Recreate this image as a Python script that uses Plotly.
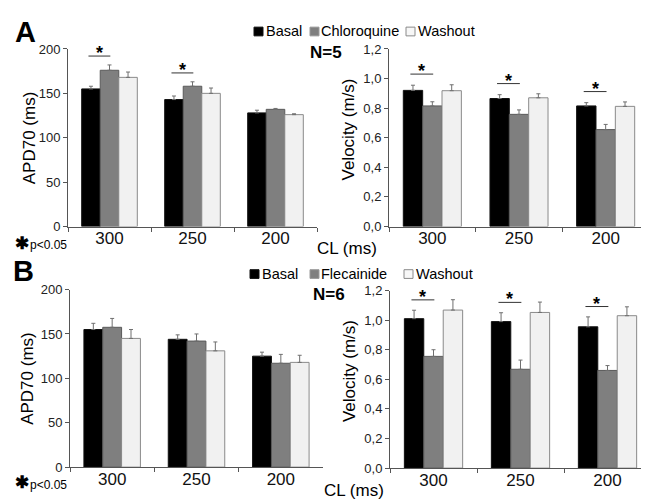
import plotly.graph_objects as go

W, H = 649, 504
FONT = "Liberation Sans, Arial, sans-serif"

categories = ["300", "250", "200"]

# Panel A (Chloroquine, N=5)
apd_a_basal = [155, 143, 128]
apd_a_basal_err = [3, 4, 3]
apd_a_drug = [176, 158, 132]
apd_a_drug_err = [6, 5, 1]
apd_a_wash = [168, 150, 126]
apd_a_wash_err = [6, 6, 1]

vel_a_basal = [0.92, 0.865, 0.815]
vel_a_basal_err = [0.035, 0.026, 0.022]
vel_a_drug = [0.815, 0.758, 0.655]
vel_a_drug_err = [0.028, 0.03, 0.035]
vel_a_wash = [0.918, 0.87, 0.812]
vel_a_wash_err = [0.04, 0.027, 0.03]

# Panel B (Flecainide, N=6)
apd_b_basal = [155, 144, 125]
apd_b_basal_err = [7, 5, 4.5]
apd_b_drug = [157.5, 142, 117]
apd_b_drug_err = [10, 8, 10]
apd_b_wash = [145, 131, 118]
apd_b_wash_err = [10, 10, 8]

vel_b_basal = [1.01, 0.99, 0.955]
vel_b_basal_err = [0.057, 0.06, 0.067]
vel_b_drug = [0.755, 0.668, 0.66]
vel_b_drug_err = [0.045, 0.062, 0.033]
vel_b_wash = [1.068, 1.052, 1.03]
vel_b_wash_err = [0.07, 0.07, 0.06]

# significant comparisons (basal vs drug), by category index
sig_apd_a = [0, 1]
sig_vel_a = [0, 1, 2]
sig_apd_b = []
sig_vel_b = [0, 1, 2]

COL_BASAL = "#000000"
COL_DRUG = "#7f7f7f"
COL_WASH = "#f1f1f1"
LINE_BASAL = "#111111"
LINE_DRUG = "#5a5a5a"
LINE_WASH = "#8a8a8a"

BARGAP = 0.33


def px_x(x):
    return x / W


def px_y(y):
    return 1 - y / H


panels = [
    dict(ax="", dx=(60, 309), dy=(35, 218), yr=[0, 200], dt=50, fmt="d",
         d=[(apd_a_basal, apd_a_basal_err), (apd_a_drug, apd_a_drug_err), (apd_a_wash, apd_a_wash_err)],
         sig=sig_apd_a, pad=10),
    dict(ax="2", dx=(381, 641), dy=(35, 218), yr=[0, 1.2], dt=0.2, fmt=".1f",
         d=[(vel_a_basal, vel_a_basal_err), (vel_a_drug, vel_a_drug_err), (vel_a_wash, vel_a_wash_err)],
         sig=sig_vel_a, pad=0.075),
    dict(ax="3", dx=(62, 315), dy=(283, 466), yr=[0, 200], dt=50, fmt="d",
         d=[(apd_b_basal, apd_b_basal_err), (apd_b_drug, apd_b_drug_err), (apd_b_wash, apd_b_wash_err)],
         sig=sig_apd_b, pad=10),
    dict(ax="4", dx=(382, 643), dy=(284, 467), yr=[0, 1.2], dt=0.2, fmt=".1f",
         d=[(vel_b_basal, vel_b_basal_err), (vel_b_drug, vel_b_drug_err), (vel_b_wash, vel_b_wash_err)],
         sig=sig_vel_b, pad=0.07),
]

fills = [COL_BASAL, COL_DRUG, COL_WASH]
lines = [LINE_BASAL, LINE_DRUG, LINE_WASH]

fig = go.Figure()
shapes = []
annotations = []

group_w = 1 - BARGAP
bar_w = group_w / 3
offsets = [-group_w / 2 + (j + 0.5) * bar_w for j in range(3)]

for p in panels:
    xa = "x" + p["ax"]
    ya = "y" + p["ax"]
    for j, (vals, errs) in enumerate(p["d"]):
        fig.add_trace(go.Bar(
            x=categories, y=vals, xaxis=xa, yaxis=ya, showlegend=False,
            marker=dict(color=fills[j], line=dict(color=lines[j], width=1)),
            error_y=dict(type="data", array=errs, arrayminus=[0] * len(errs),
                         symmetric=False, color="#6f6f6f", thickness=1, width=2),
        ))
    basal, basal_err = p["d"][0]
    drug, drug_err = p["d"][1]
    for i in p["sig"]:
        top = max(basal[i] + basal_err[i], drug[i] + drug_err[i]) + p["pad"]
        shapes.append(dict(type="line", xref=xa, yref=ya,
                           x0=i + offsets[0] - 0.03, x1=i + offsets[1] + 0.01,
                           y0=top, y1=top, line=dict(color="#333333", width=1)))
        annotations.append(dict(xref=xa, yref=ya, x=i + (offsets[0] + offsets[1]) / 2 - 0.01,
                                y=top, text="<b>*</b>", showarrow=False, yanchor="middle",
                                yshift=3, font=dict(size=18, color="#000", family=FONT)))

    xkey = "xaxis" + p["ax"]
    ykey = "yaxis" + p["ax"]
    fig.layout[xkey] = dict(
        domain=[px_x(p["dx"][0]), px_x(p["dx"][1])], anchor=ya, type="category",
        showline=True, linecolor="#555", linewidth=1, ticks="outside", tickson="boundaries",
        ticklen=4, tickcolor="#555", showgrid=False, fixedrange=True,
        tickfont=dict(size=17, color="#111", family=FONT), ticklabelstandoff=-4,
    )
    fig.layout[ykey] = dict(
        domain=[px_y(p["dy"][1]), px_y(p["dy"][0])], anchor=xa, range=p["yr"], dtick=p["dt"],
        tickformat=p["fmt"], showline=True, linecolor="#555", linewidth=1, ticks="outside",
        ticklen=4, tickcolor="#555", showgrid=False, zeroline=False, fixedrange=True,
        tickfont=dict(size=13, color="#222", family=FONT),
    )


def ann(x, y, text, size, bold=False, angle=0, xanchor="center", color="#000"):
    t = f"<b>{text}</b>" if bold else text
    annotations.append(dict(xref="paper", yref="paper", x=px_x(x), y=px_y(y), text=t,
                            showarrow=False, textangle=angle, xanchor=xanchor, yanchor="middle",
                            font=dict(size=size, color=color, family=FONT)))


# Axis titles
ann(21, 127, "APD70 (ms)", 17, angle=-90)
ann(340, 118, "Velocity (m/s)", 17, angle=-90)
ann(20, 375, "APD70 (ms)", 17, angle=-90)
ann(341, 367, "Velocity (m/s)", 17, angle=-90)

# Panel letters
ann(17, 18, "A", 29, bold=True)
ann(15, 264, "B", 29, bold=True)

# N labels
ann(318, 39, "N=5", 17, bold=True)
ann(321, 288, "N=6", 17, bold=True)

# CL labels
ann(339, 241, "CL (ms)", 17)
ann(346, 490, "CL (ms)", 17)

# p-value notes
for yy in (236, 483):
    ann(14, yy - 1, "✱", 17, bold=True)
    ann(20, yy + 1, "p&lt;0.05", 12, xanchor="left")


# Legends
def legend(y, items):
    for (sx, tx, label, fill, edge) in items:
        shapes.append(dict(type="rect", xref="paper", yref="paper",
                           x0=px_x(sx), x1=px_x(sx + 9), y0=px_y(y + 4.5), y1=px_y(y - 4.5),
                           fillcolor=fill, line=dict(color=edge, width=1)))
        ann(tx, y, label, 14.5, xanchor="left")


legend(17, [(246, 256, "Basal", COL_BASAL, LINE_BASAL),
            (302, 311, "Chloroquine", COL_DRUG, "#9a9a9a"),
            (398, 408, "Washout", "#f7f7f7", "#8a8a8a")])
legend(267, [(242, 252, "Basal", COL_BASAL, LINE_BASAL),
             (302, 311, "Flecainide", COL_DRUG, "#9a9a9a"),
             (396, 406, "Washout", "#f7f7f7", "#8a8a8a")])

fig.update_layout(
    width=W, height=H, margin=dict(l=0, r=0, t=0, b=0),
    paper_bgcolor="white", plot_bgcolor="white",
    barmode="group", bargap=BARGAP, bargroupgap=0,
    separators=",.", font=dict(family=FONT),
    shapes=shapes, annotations=annotations,
)

fig.write_html("out.html")
